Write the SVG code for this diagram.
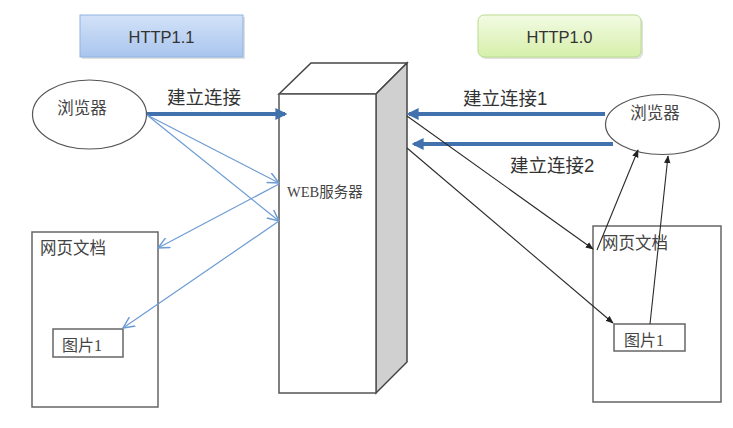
<svg xmlns="http://www.w3.org/2000/svg" width="733" height="428" viewBox="0 0 733 428">
  <defs>
    <linearGradient id="gBlue" x1="0" y1="0" x2="0" y2="1">
      <stop offset="0" stop-color="#d3e2f8"/>
      <stop offset="1" stop-color="#a9c5ee"/>
    </linearGradient>
    <linearGradient id="gGreen" x1="0" y1="0" x2="0" y2="1">
      <stop offset="0" stop-color="#f3fbe4"/>
      <stop offset="1" stop-color="#d6efaa"/>
    </linearGradient>
    <marker id="aThick" viewBox="0 0 10 10" refX="8" refY="5" markerWidth="3" markerHeight="3" orient="auto" markerUnits="strokeWidth">
      <path d="M0,0 L10,5 L0,10 Z" fill="#4272ad"/>
    </marker>
    <marker id="aOpen" viewBox="0 0 10 10" refX="9.5" refY="5" markerWidth="12" markerHeight="12" orient="auto" markerUnits="userSpaceOnUse">
      <path d="M0,0.5 L9.5,5 L0,9.5" fill="none" stroke="#6c9bd4" stroke-width="1.2"/>
    </marker>
    <marker id="aBlack" viewBox="0 0 10 10" refX="9" refY="5" markerWidth="8" markerHeight="8" orient="auto" markerUnits="userSpaceOnUse">
      <path d="M0,1 L10,5 L0,9 Z" fill="#222"/>
    </marker>
  </defs>
  <style>
    .sans { font-family: "Liberation Sans", "Noto Sans CJK SC", sans-serif; fill: #333; }
    .serif { font-family: "Liberation Serif", "Noto Sans CJK SC", serif; fill: #444; }
    .box { fill: #fff; stroke: #666; stroke-width: 1.5; }
    .thick { stroke: #4272ad; stroke-width: 4; fill: none; }
    .thin { stroke: #6c9bd4; stroke-width: 1.2; fill: none; }
    .black { stroke: #2a2a2a; stroke-width: 1.1; fill: none; }
  </style>

  <rect width="733" height="428" fill="#fff"/>

  <!-- protocol headers -->
  <g id="http11">
    <rect x="82" y="17" width="163" height="42" fill="#000" opacity="0.12"/>
    <rect x="80" y="15" width="163" height="42" fill="url(#gBlue)" stroke="#8fb3e2" stroke-width="1"/>
    <text x="161.5" y="42.5" class="sans" font-size="16.5" text-anchor="middle" fill="#222">HTTP1.1</text>
  </g>
  <g id="http10">
    <rect x="480" y="17" width="163" height="42" rx="6" fill="#000" opacity="0.12"/>
    <rect x="478" y="15" width="163" height="42" rx="6" fill="url(#gGreen)" stroke="#b9dc8e" stroke-width="1"/>
    <text x="559.5" y="42.5" class="sans" font-size="16.5" text-anchor="middle" fill="#222">HTTP1.0</text>
  </g>

  <!-- web server block -->
  <g id="server">
    <polygon points="279,94 311,63 407,63 376,94" fill="#fff" stroke="#444" stroke-width="1.5"/>
    <polygon points="376,94 407,63 407,362 376,393" fill="#d0d0d0" stroke="#444" stroke-width="1.5"/>
    <rect x="279" y="94" width="97" height="299" fill="#fff" stroke="#555" stroke-width="1.5"/>
    <text x="287" y="197" class="serif" font-size="14.5">WEB服务器</text>
  </g>

  <!-- HTTP1.1 side -->
  <g id="browser-left">
    <ellipse cx="89.5" cy="114.5" rx="57" ry="34.5" fill="#fff" stroke="#555" stroke-width="1.2"/>
    <text x="82" y="114" class="serif" font-size="16.5" text-anchor="middle">浏览器</text>
  </g>
  <g id="doc-left">
    <rect x="32" y="232" width="126" height="175" class="box"/>
    <text x="40" y="254" class="serif" font-size="16.5">网页文档</text>
  </g>
  <g id="img-left">
    <rect x="53" y="329" width="70" height="28" class="box"/>
    <text x="62" y="351" class="serif" font-size="16">图片1</text>
  </g>

  <!-- HTTP1.0 side -->
  <g id="browser-right">
    <ellipse cx="662.5" cy="124.5" rx="57" ry="30" fill="#fff" stroke="#555" stroke-width="1.2"/>
    <text x="655" y="119" class="serif" font-size="16.5" text-anchor="middle">浏览器</text>
  </g>
  <g id="doc-right">
    <rect x="593" y="226" width="128" height="176" class="box"/>
    <text x="602" y="249" class="serif" font-size="16.5">网页文档</text>
  </g>
  <g id="img-right">
    <rect x="614" y="324" width="71" height="27" class="box"/>
    <text x="624" y="346" class="serif" font-size="16">图片1</text>
  </g>

  <!-- connectors -->
  <g id="connectors">
    <!-- HTTP1.1: one persistent connection -->
    <line x1="147" y1="114" x2="285" y2="114" class="thick" marker-end="url(#aThick)"/>
    <text x="167" y="104" class="sans" font-size="18.5">建立连接</text>
    <line x1="147" y1="115" x2="279" y2="183" class="thin" marker-end="url(#aOpen)"/>
    <line x1="147" y1="115" x2="279" y2="221" class="thin" marker-end="url(#aOpen)"/>
    <line x1="279" y1="184" x2="158" y2="248" class="thin" marker-end="url(#aOpen)"/>
    <line x1="279" y1="221" x2="123" y2="328" class="thin" marker-end="url(#aOpen)"/>

    <!-- HTTP1.0: one connection per request -->
    <line x1="605" y1="114" x2="409" y2="114" class="thick" marker-end="url(#aThick)"/>
    <text x="463" y="105" class="sans" font-size="18.5">建立连接1</text>
    <line x1="613" y1="144" x2="414" y2="144" class="thick" marker-end="url(#aThick)"/>
    <text x="510" y="172" class="sans" font-size="18.5">建立连接2</text>
    <line x1="407" y1="116" x2="593" y2="249" class="black" marker-end="url(#aBlack)"/>
    <line x1="407" y1="148" x2="613" y2="323" class="black" marker-end="url(#aBlack)"/>
    <line x1="597" y1="250" x2="638" y2="150" class="black" marker-end="url(#aBlack)"/>
    <line x1="650" y1="324" x2="668" y2="156" class="black" marker-end="url(#aBlack)"/>
  </g>
</svg>
